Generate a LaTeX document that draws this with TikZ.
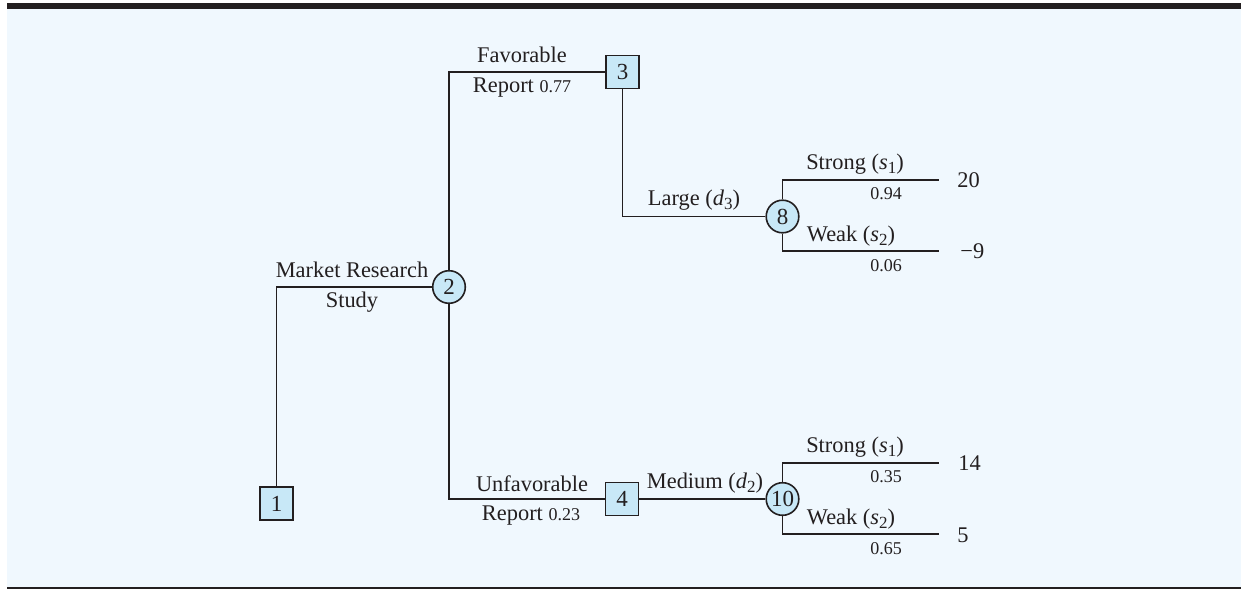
\documentclass[tikz,border=0pt]{standalone}
\usepackage{fontspec}
\setmainfont{Liberation Serif}
\definecolor{bgblue}{HTML}{F0F8FE}
\definecolor{nodeblue}{HTML}{C8E8F7}
\definecolor{ink}{HTML}{231F20}
\newcommand\mysub[2]{\textit{#1}\raisebox{-0.4ex}{\fontsize{8.5}{9}\selectfont #2}}
\begin{document}
\begin{tikzpicture}[x=0.5pt,y=-0.5pt,
  every node/.style={text=ink},
  line/.style={draw=ink,line width=0.8pt},
  sqnode/.style={draw=ink,line width=0.8pt,fill=nodeblue,rectangle,minimum size=16.5pt,inner sep=0pt,font=\fontsize{11.5}{13}\selectfont},
  cinode/.style={draw=ink,line width=0.8pt,fill=nodeblue,circle,minimum size=16.3pt,inner sep=0pt,font=\fontsize{11.5}{13}\selectfont},
  lbl/.style={anchor=base,inner sep=0pt,font=\fontsize{11.2}{13}\selectfont},
  prob/.style={anchor=base,inner sep=0pt,font=\fontsize{9}{11}\selectfont},
  pay/.style={anchor=west,inner sep=0pt,font=\fontsize{11.2}{13}\selectfont}]
\useasboundingbox (0,0) rectangle (1241,589);
\fill[bgblue] (7,9) rectangle (1241,587);
\fill[ink] (7,3) rectangle (1241,9);
\fill[ink] (7,587) rectangle (1241,589);
% nodes
\node[sqnode] (n1) at (276.5,503.5) {1};
\node[cinode] (n2) at (449,287) {2};
\node[sqnode] (n3) at (622.5,72) {3};
\node[sqnode] (n4) at (622,499) {4};
\node[cinode] (n8) at (782.5,216.5) {8};
\node[cinode] (n10) at (782.5,499) {10};
\coordinate (e1) at (939,180);
\coordinate (e2) at (939,251);
\coordinate (e3) at (939,463);
\coordinate (e4) at (939,534);
% connectors
\draw[line] (n1.north) |- (n2.west);
\draw[line] (n2.north) |- (n3.west);
\draw[line] (n3.south) |- (n8.west);
\draw[line] (n2.south) |- (n4.west);
\draw[line] (n4.east) -- (n10.west);
\draw[line] (n8.north) |- (e1);
\draw[line] (n8.south) |- (e2);
\draw[line] (n10.north) |- (e3);
\draw[line] (n10.south) |- (e4);
% labels
\node[lbl] (t1) at (352,277) {Market Research};
\node[lbl] (t2) at (352,307) {Study};
\node[lbl] (t3) at (522,62.5) {Favorable};
\node[lbl] (t4) at (522,92) {Report {\fontsize{9}{11}\selectfont 0.77}};
\node[lbl] (t5) at (532,491) {Unfavorable};
\node[lbl] (t6) at (531,520) {Report {\fontsize{9}{11}\selectfont 0.23}};
\node[lbl] (t7) at (694,205) {Large (\mysub{d}{3})};
\node[lbl] (t8) at (705,488) {Medium (\mysub{d}{2})};
\node[lbl] (t9) at (855,169) {Strong (\mysub{s}{1})};
\node[prob] (p1) at (886,199) {0.94};
\node[lbl] (t10) at (851,241) {Weak (\mysub{s}{2})};
\node[prob] (p2) at (886,271) {0.06};
\node[lbl] (t11) at (855,452) {Strong (\mysub{s}{1})};
\node[prob] (p3) at (886,482) {0.35};
\node[lbl] (t12) at (851,524) {Weak (\mysub{s}{2})};
\node[prob] (p4) at (886,554) {0.65};
% payoffs
\node[pay] (v1) at (957,180) {20};
\node[pay] (v2) at (960,251) {−9};
\node[pay] (v3) at (958,463) {14};
\node[pay] (v4) at (957,535) {5};
\end{tikzpicture}
\end{document}
